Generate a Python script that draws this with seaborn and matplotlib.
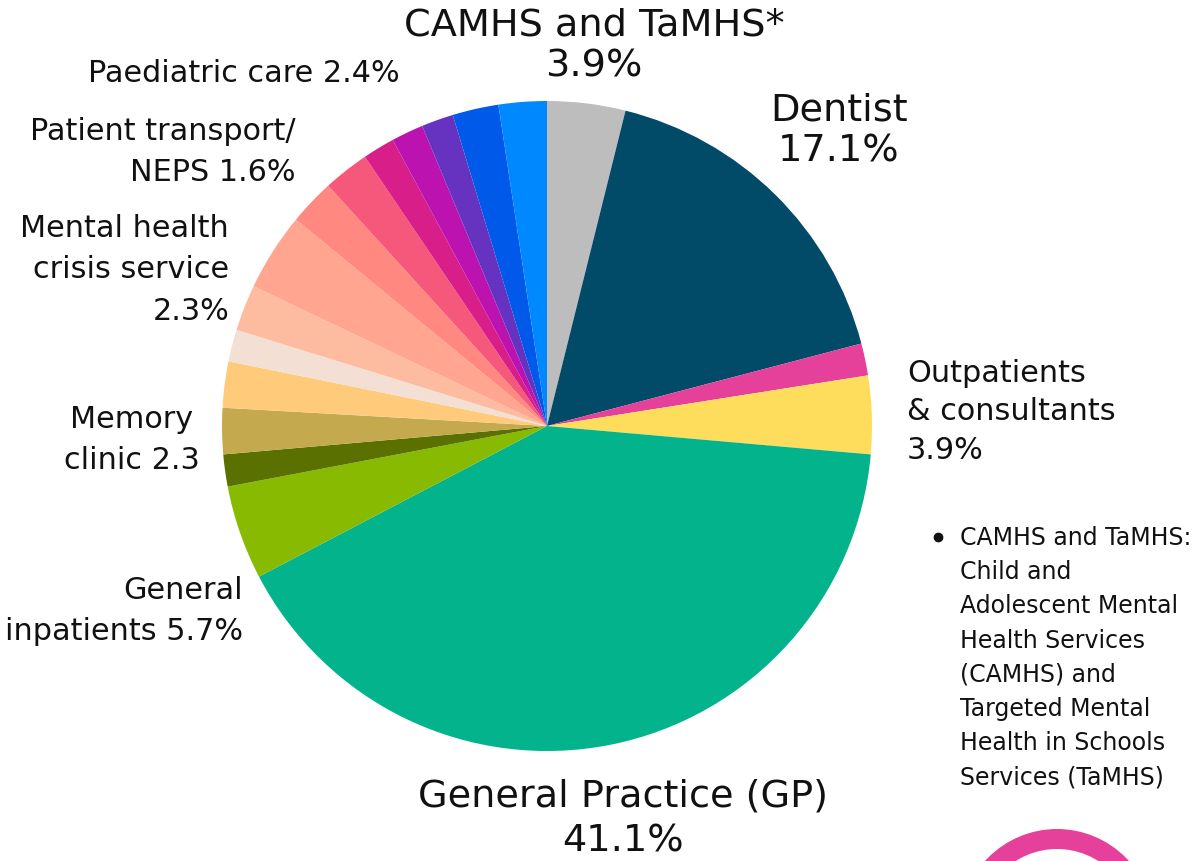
import matplotlib
matplotlib.use("Agg")
import matplotlib.pyplot as plt
from matplotlib.patches import Wedge
import seaborn as sns

# slices, clockwise from 12 o'clock
services = ["CAMHS and TaMHS", "Dentist", "Other A", "Outpatients & consultants",
            "General Practice (GP)", "General inpatients", "Other B", "Memory clinic",
            "Other C", "Other D", "Mental health crisis service", "Other E", "Other F",
            "Other G", "Patient transport/NEPS", "Other H", "Other I", "Other J",
            "Paediatric care"]
shares = [3.9, 17.1, 1.6, 3.9, 41.1, 4.7, 1.6, 2.3, 2.3, 1.6, 2.3, 3.9, 2.3,
          2.3, 1.6, 1.6, 1.6, 2.3, 2.4]
colours = ["#BDBDBD", "#014B69", "#E5409A", "#FFDD5C", "#02B38C", "#87BA00",
           "#5A7000", "#C4A94E", "#FFCA7A", "#F3DFD3", "#FDBBA0", "#FFA590",
           "#FF8880", "#F5587A", "#D81E88", "#BB12B0", "#6633C0", "#0059E8",
           "#0088FF"]

# label texts as printed on the chart
big_labels = ["CAMHS and TaMHS*\n3.9%", "Dentist\n17.1%", "General Practice (GP)\n41.1%"]
small_labels = ["Outpatients\n& consultants\n3.9%", "General\ninpatients 5.7%",
                "Memory\nclinic 2.3", "Mental health\ncrisis service\n2.3%",
                "Patient transport/\nNEPS 1.6%", "Paediatric care 2.4%"]
footnote = ["CAMHS and TaMHS:", "Child and", "Adolescent Mental", "Health Services",
            "(CAMHS) and", "Targeted Mental", "Health in Schools", "Services (TaMHS)"]

sns.set_theme(style="white")
plt.rcParams["font.family"] = ["DejaVu Sans"]

W, H = 1195, 862
fig = plt.figure(figsize=(W / 100, H / 100), dpi=100)
ax = fig.add_axes([0, 0, 1, 1])

def Y(y):
    # picture rows run downwards, data y runs upwards
    return H - y

ax.pie(shares, colors=sns.color_palette(colours), startangle=90, counterclock=False,
       center=(547, Y(427)), radius=325, frame=True,
       wedgeprops=dict(linewidth=0))
ax.set_xlim(0, W)
ax.set_ylim(0, H)
ax.set_aspect("equal")
ax.axis("off")

ink = "#111111"
big = 27.5
small = 21.8

ax.text(594, Y(46), big_labels[0], ha="center", va="center", fontsize=big,
        linespacing=1.2, color=ink)
ax.text(839, Y(131), big_labels[1], ha="center", va="center", fontsize=big,
        linespacing=1.2, color=ink)
ax.text(623, Y(819), big_labels[2], ha="center", va="center", fontsize=big,
        linespacing=1.33, color=ink)

ax.text(907, Y(412), small_labels[0], ha="left", va="center", multialignment="left",
        fontsize=small, linespacing=1.43, color=ink)
ax.text(243, Y(611), small_labels[1], ha="right", va="center", multialignment="right",
        fontsize=small, linespacing=1.52, color=ink)
ax.text(132, Y(440), small_labels[2], ha="center", va="center", multialignment="center",
        fontsize=small, linespacing=1.52, color=ink)
ax.text(229, Y(270), small_labels[3], ha="right", va="center", multialignment="right",
        fontsize=small, linespacing=1.53, color=ink)
ax.text(296, Y(152), small_labels[4], ha="right", va="center", multialignment="right",
        fontsize=small, linespacing=1.55, color=ink)
ax.text(400, Y(73), small_labels[5], ha="right", va="center", fontsize=small, color=ink)

# footnote with bullet
ax.plot([938], [Y(538)], marker="o", markersize=6, color=ink)
for i, line in enumerate(footnote):
    ax.text(960, Y(538 + i * 34.2), line, ha="left", va="center", fontsize=17, color=ink)

# logo arc peeking in at the bottom right
ax.add_patch(Wedge((1057, Y(927)), 97, 0, 180, width=20, color="#E5409A", linewidth=0))

fig.savefig("out.png", dpi=100)
